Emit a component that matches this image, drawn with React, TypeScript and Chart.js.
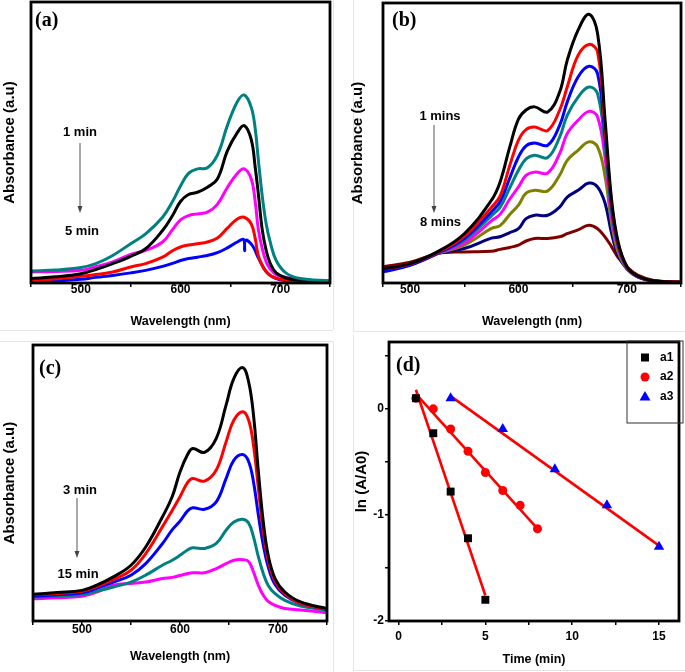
import React, { useEffect, useRef } from "react";
import { Chart, registerables } from "chart.js";

Chart.register(...registerables);

// ---------------- Panel (a) ----------------
const wavelengthA = [450, 475, 500, 515, 532, 550, 565, 582, 592, 600, 608, 617, 627, 637, 647, 657, 664, 671, 675, 678, 682, 686, 690, 696, 706, 720, 750];
const a_1min = [0.043, 0.046, 0.055, 0.069, 0.098, 0.14, 0.175, 0.234, 0.29, 0.345, 0.39, 0.406, 0.41, 0.455, 0.56, 0.645, 0.669, 0.625, 0.548, 0.442, 0.31, 0.21, 0.146, 0.08, 0.035, 0.016, 0.008];
const a_2min = [0.016, 0.022, 0.033, 0.048, 0.069, 0.095, 0.122, 0.187, 0.24, 0.29, 0.315, 0.323, 0.341, 0.37, 0.47, 0.535, 0.56, 0.51, 0.41, 0.32, 0.19, 0.115, 0.07, 0.036, 0.018, 0.01, 0.006];
const a_3min = [0.039, 0.041, 0.045, 0.058, 0.075, 0.102, 0.116, 0.146, 0.19, 0.225, 0.24, 0.246, 0.252, 0.28, 0.34, 0.39, 0.406, 0.37, 0.288, 0.193, 0.122, 0.075, 0.05, 0.03, 0.02, 0.012, 0.006];
const a_4min = [0.007, 0.015, 0.024, 0.03, 0.039, 0.057, 0.069, 0.092, 0.115, 0.128, 0.135, 0.14, 0.146, 0.16, 0.195, 0.228, 0.234, 0.21, 0.158, 0.098, 0.062, 0.04, 0.027, 0.017, 0.01, 0.006, 0.004];
const wavelengthA5 = [450, 475, 500, 515, 532, 550, 565, 582, 592, 600, 608, 617, 627, 637, 647, 657, 663.3, 664.3, 665.3, 672, 677, 682, 688, 696, 706, 720, 750];
const a_5min = [0.004, 0.008, 0.013, 0.02, 0.027, 0.036, 0.045, 0.059, 0.07, 0.08, 0.087, 0.092, 0.098, 0.108, 0.125, 0.146, 0.155, 0.115, 0.152, 0.134, 0.098, 0.063, 0.033, 0.016, 0.008, 0.005, 0.003];

// ---------------- Panel (b) ----------------
const wavelengthB = [475, 500, 525, 550, 575, 583, 592, 600, 607, 615, 627, 638, 645, 655, 665, 673, 680, 686, 692, 700, 710, 725, 750];
const b_1 = [0.051, 0.069, 0.111, 0.176, 0.295, 0.36, 0.486, 0.585, 0.618, 0.629, 0.611, 0.682, 0.795, 0.903, 0.96, 0.891, 0.58, 0.295, 0.146, 0.06, 0.025, 0.008, 0.003];
const b_2 = [0.05, 0.068, 0.108, 0.167, 0.27, 0.31, 0.42, 0.51, 0.548, 0.557, 0.545, 0.617, 0.7, 0.813, 0.852, 0.825, 0.545, 0.284, 0.14, 0.058, 0.024, 0.008, 0.003];
const b_3 = [0.04, 0.063, 0.105, 0.159, 0.254, 0.29, 0.375, 0.45, 0.49, 0.5, 0.492, 0.563, 0.646, 0.736, 0.774, 0.748, 0.521, 0.271, 0.135, 0.056, 0.023, 0.007, 0.003];
const b_4 = [0.045, 0.065, 0.105, 0.153, 0.24, 0.27, 0.34, 0.403, 0.443, 0.456, 0.448, 0.521, 0.599, 0.664, 0.7, 0.676, 0.486, 0.254, 0.13, 0.055, 0.023, 0.007, 0.003];
const b_5 = [0.047, 0.066, 0.105, 0.143, 0.222, 0.245, 0.3, 0.343, 0.384, 0.396, 0.393, 0.462, 0.534, 0.581, 0.613, 0.593, 0.444, 0.236, 0.123, 0.054, 0.023, 0.007, 0.003];
const b_6 = [0.048, 0.067, 0.105, 0.135, 0.195, 0.205, 0.245, 0.278, 0.321, 0.331, 0.329, 0.385, 0.438, 0.474, 0.504, 0.486, 0.379, 0.212, 0.11, 0.052, 0.022, 0.007, 0.003];
const b_7 = [0.045, 0.065, 0.105, 0.123, 0.16, 0.165, 0.18, 0.194, 0.23, 0.242, 0.242, 0.271, 0.307, 0.331, 0.357, 0.343, 0.284, 0.176, 0.099, 0.05, 0.022, 0.007, 0.003];
const b_8 = [0.058, 0.074, 0.105, 0.111, 0.113, 0.12, 0.127, 0.135, 0.15, 0.159, 0.159, 0.165, 0.176, 0.19, 0.206, 0.194, 0.164, 0.129, 0.091, 0.057, 0.028, 0.009, 0.003];

// ---------------- Panel (c) ----------------
const wavelengthC = [450, 475, 500, 515, 532, 550, 565, 582, 592, 600, 608, 613, 625, 637, 647, 655, 664, 670, 675, 680, 685, 690, 697, 707, 723, 750];
const c_3min = [0.097, 0.103, 0.111, 0.13, 0.16, 0.202, 0.268, 0.377, 0.45, 0.54, 0.605, 0.625, 0.611, 0.662, 0.782, 0.879, 0.918, 0.867, 0.746, 0.54, 0.359, 0.238, 0.154, 0.105, 0.069, 0.045];
const c_6min = [0.095, 0.1, 0.108, 0.125, 0.15, 0.184, 0.244, 0.341, 0.4, 0.45, 0.503, 0.516, 0.507, 0.547, 0.649, 0.728, 0.758, 0.728, 0.637, 0.48, 0.323, 0.22, 0.144, 0.099, 0.064, 0.043];
const c_9min = [0.09, 0.095, 0.102, 0.118, 0.141, 0.166, 0.208, 0.28, 0.33, 0.362, 0.4, 0.41, 0.405, 0.432, 0.516, 0.583, 0.603, 0.578, 0.504, 0.383, 0.275, 0.196, 0.132, 0.093, 0.063, 0.042];
const c_12min = [0.087, 0.09, 0.096, 0.108, 0.123, 0.141, 0.166, 0.202, 0.22, 0.238, 0.258, 0.265, 0.263, 0.281, 0.329, 0.359, 0.369, 0.355, 0.305, 0.232, 0.172, 0.129, 0.099, 0.075, 0.054, 0.04];
const c_15min = [0.081, 0.084, 0.09, 0.105, 0.13, 0.136, 0.141, 0.154, 0.158, 0.165, 0.172, 0.175, 0.175, 0.19, 0.208, 0.22, 0.222, 0.216, 0.178, 0.129, 0.093, 0.071, 0.057, 0.045, 0.04, 0.03];

// ---------------- Panel (d) ----------------
const timeA1 = [1, 2, 3, 4, 5];
const lnA1 = [0.1, -0.23, -0.78, -1.22, -1.8];
const timeA2 = [1, 2, 3, 4, 5, 6, 7, 8];
const lnA2 = [0.1, 0.0, -0.19, -0.4, -0.6, -0.77, -0.91, -1.13];
const timeA3 = [3, 6, 9, 12, 15];
const lnA3 = [0.1, -0.19, -0.57, -0.91, -1.3];
const fitA1X = [1.0, 5.0];
const fitA1Y = [0.18, -1.76];
const fitA2X = [1.0, 8.0];
const fitA2Y = [0.14, -1.13];
const fitA3X = [3.0, 15.0];
const fitA3Y = [0.12, -1.29];

// tick values
const wlTicksA = [450, 500, 550, 600, 650, 700, 750];
const wlTicksB = [475, 500, 550, 600, 650, 700, 750];
const wlLabels = [500, 600, 700];
const timeTicks = [0, 2.5, 5, 7.5, 10, 12.5, 15];
const timeLabels = [0, 5, 10, 15];
const lnTicks = [-2, -1.5, -1, -0.5, 0, 0.5];
const lnLabels = [-2, -1, 0];

const SANS = '"Liberation Sans", Arial, Helvetica, sans-serif';
const SERIF = '"Liberation Serif", "Times New Roman", serif';

function series(xs: number[], ys: number[]) {
  return xs.map((x, i) => ({ x, y: ys[i] }));
}

function spectrum(label: string, xs: number[], ys: number[], color: string) {
  return {
    label,
    data: series(xs, ys),
    borderColor: color,
    backgroundColor: color,
    borderWidth: 3,
    pointRadius: 0,
    fill: false,
    tension: 0.4,
  };
}

type Note = { text: string; x: number; y: number; font: string; align?: CanvasTextAlign };
type Arrow = { x: number; y1: number; y2: number };
type LegendItem = { text: string; shape: string; color: string };
type LegendBox = { x1: number; y1: number; x2: number; y2: number; markerX: number; textX: number; rows: number[]; items: LegendItem[] };

function drawMarker(ctx: CanvasRenderingContext2D, shape: string, x: number, y: number, color: string) {
  ctx.fillStyle = color;
  ctx.beginPath();
  if (shape === "rect") {
    ctx.rect(x - 4, y - 4, 8, 8);
  } else if (shape === "circle") {
    ctx.arc(x, y, 4.5, 0, Math.PI * 2);
  } else {
    ctx.moveTo(x, y - 5.5);
    ctx.lineTo(x + 5.5, y + 4);
    ctx.lineTo(x - 5.5, y + 4);
    ctx.closePath();
  }
  ctx.fill();
}

function decorPlugin(notes: Note[], arrows: Arrow[], legend?: LegendBox) {
  return {
    id: "decor",
    afterDraw(chart: any) {
      const ctx: CanvasRenderingContext2D = chart.ctx;
      const { left, top, right, bottom } = chart.chartArea;
      ctx.save();
      ctx.strokeStyle = "#000";
      ctx.lineWidth = 2.8;
      ctx.strokeRect(left, top, right - left, bottom - top);
      for (const a of arrows) {
        ctx.strokeStyle = "#555";
        ctx.lineWidth = 1;
        ctx.beginPath();
        ctx.moveTo(a.x, a.y1);
        ctx.lineTo(a.x, a.y2 - 5);
        ctx.stroke();
        ctx.fillStyle = "#444";
        ctx.beginPath();
        ctx.moveTo(a.x, a.y2);
        ctx.lineTo(a.x - 2.5, a.y2 - 7);
        ctx.lineTo(a.x + 2.5, a.y2 - 7);
        ctx.closePath();
        ctx.fill();
      }
      for (const n of notes) {
        ctx.font = n.font;
        ctx.fillStyle = "#000";
        ctx.textAlign = n.align || "center";
        ctx.textBaseline = "middle";
        ctx.fillText(n.text, n.x, n.y);
      }
      if (legend) {
        ctx.strokeStyle = "#333";
        ctx.lineWidth = 1;
        ctx.strokeRect(legend.x1, legend.y1, legend.x2 - legend.x1, legend.y2 - legend.y1);
        legend.items.forEach((it, i) => {
          drawMarker(ctx, it.shape, legend.markerX, legend.rows[i], it.color);
          ctx.font = `bold 12px ${SANS}`;
          ctx.fillStyle = "#000";
          ctx.textAlign = "left";
          ctx.textBaseline = "middle";
          ctx.fillText(it.text, legend.textX, legend.rows[i]);
        });
      }
      ctx.restore();
    },
  };
}

type Spec = {
  x: number; y: number; w: number; h: number;
  padTop: number; padRight: number; yAxisW: number; xAxisH: number;
  xMin: number; xMax: number; xTicks: number[]; xLabels: number[]; xTickPad: number;
  yMin: number; yMax: number; yTicks?: number[]; yLabels?: number[];
  xTitle: string; xTitlePad: number; yTitle: string; yTitlePad: number;
  datasets: any[]; notes: Note[]; arrows: Arrow[]; legend?: LegendBox;
};

function buildConfig(s: Spec): any {
  const tickFont = { family: SANS, size: 12, weight: "bold", lineHeight: 1 };
  const showY = !!s.yTicks;
  return {
    type: "line",
    data: { datasets: s.datasets },
    options: {
      responsive: false,
      animation: false,
      devicePixelRatio: 1,
      layout: { padding: { top: s.padTop, right: s.padRight, left: 0, bottom: 0 } },
      plugins: { legend: { display: false }, tooltip: { enabled: false }, title: { display: false } },
      scales: {
        x: {
          type: "linear",
          min: s.xMin,
          max: s.xMax,
          afterBuildTicks: (sc: any) => {
            sc.ticks = s.xTicks.map((v) => ({ value: v }));
          },
          afterFit: (sc: any) => {
            sc.height = s.xAxisH;
          },
          ticks: {
            autoSkip: false,
            maxRotation: 0,
            minRotation: 0,
            padding: s.xTickPad,
            font: tickFont,
            color: "#000",
            callback: (v: number) => (s.xLabels.includes(v) ? String(v) : ""),
          },
          grid: { display: true, drawOnChartArea: false, drawTicks: true, tickLength: 4, color: "#000", lineWidth: 1.5 },
          border: { display: false },
          title: {
            display: true,
            text: s.xTitle,
            color: "#000",
            font: { family: SANS, size: 12.5, weight: "bold", lineHeight: 1.2 },
            padding: { top: 0, bottom: s.xTitlePad, left: 0, right: 0 },
          },
        },
        y: {
          type: "linear",
          min: s.yMin,
          max: s.yMax,
          afterBuildTicks: (sc: any) => {
            if (s.yTicks) sc.ticks = s.yTicks.map((v) => ({ value: v }));
          },
          afterFit: (sc: any) => {
            sc.width = s.yAxisW;
          },
          ticks: {
            display: showY,
            autoSkip: false,
            padding: 1,
            font: tickFont,
            color: "#000",
            callback: (v: number) => (s.yLabels && s.yLabels.includes(v) ? String(v) : ""),
          },
          grid: { display: showY, drawOnChartArea: false, drawTicks: true, tickLength: 4, color: "#000", lineWidth: 1.5 },
          border: { display: false },
          title: {
            display: true,
            text: s.yTitle,
            color: "#000",
            font: { family: SANS, size: 15, weight: "bold", lineHeight: 1.2 },
            padding: { top: s.yTitlePad, bottom: 0, left: 0, right: 0 },
          },
        },
      },
    },
    plugins: [decorPlugin(s.notes, s.arrows, s.legend)],
  };
}

const labelFont = `bold 20px ${SERIF}`;
const noteFont = `bold 13px ${SANS}`;

const specA: Spec = {
  x: 0, y: 0, w: 340, h: 335,
  padTop: 2, padRight: 10, yAxisW: 31, xAxisH: 52,
  xMin: 450, xMax: 750, xTicks: wlTicksA, xLabels: wlLabels, xTickPad: -3,
  yMin: 0, yMax: 1,
  xTitle: "Wavelength (nm)", xTitlePad: 5.5, yTitle: "Absorbance (a.u)", yTitlePad: 1,
  datasets: [
    spectrum("1 min", wavelengthA, a_1min, "#008080"),
    spectrum("2 min", wavelengthA, a_2min, "#000000"),
    spectrum("3 min", wavelengthA, a_3min, "#FF00FF"),
    spectrum("4 min", wavelengthA, a_4min, "#FF0000"),
    spectrum("5 min", wavelengthA5, a_5min, "#0000FF"),
  ],
  notes: [
    { text: "(a)", x: 35, y: 21, font: labelFont, align: "left" },
    { text: "1 min", x: 80, y: 132, font: noteFont },
    { text: "5 min", x: 82, y: 231, font: noteFont },
  ],
  arrows: [{ x: 80, y1: 143, y2: 213 }],
};

const specB: Spec = {
  x: 340, y: 0, w: 345, h: 335,
  padTop: 3, padRight: 4, yAxisW: 43, xAxisH: 52,
  xMin: 475, xMax: 750, xTicks: wlTicksB, xLabels: wlLabels, xTickPad: -3,
  yMin: 0, yMax: 1,
  xTitle: "Wavelength (nm)", xTitlePad: 5.5, yTitle: "Absorbance (a.u)", yTitlePad: 9,
  datasets: [
    spectrum("1 mins", wavelengthB, b_1, "#000000"),
    spectrum("2 mins", wavelengthB, b_2, "#FF0000"),
    spectrum("3 mins", wavelengthB, b_3, "#0000FF"),
    spectrum("4 mins", wavelengthB, b_4, "#008080"),
    spectrum("5 mins", wavelengthB, b_5, "#FF00FF"),
    spectrum("6 mins", wavelengthB, b_6, "#808000"),
    spectrum("7 mins", wavelengthB, b_7, "#000080"),
    spectrum("8 mins", wavelengthB, b_8, "#800000"),
  ],
  notes: [
    { text: "(b)", x: 52, y: 21, font: labelFont, align: "left" },
    { text: "1 mins", x: 100, y: 116, font: noteFont },
    { text: "8 mins", x: 100.5, y: 222, font: noteFont },
  ],
  arrows: [{ x: 94, y1: 125, y2: 213 }],
};

const specC: Spec = {
  x: 0, y: 335, w: 340, h: 337,
  padTop: 10, padRight: 13, yAxisW: 33, xAxisH: 51,
  xMin: 450, xMax: 750, xTicks: wlTicksA, xLabels: wlLabels, xTickPad: -1,
  yMin: 0, yMax: 1,
  xTitle: "Wavelength (nm)", xTitlePad: 7.5, yTitle: "Absorbance (a.u)", yTitlePad: 1,
  datasets: [
    spectrum("3 min", wavelengthC, c_3min, "#000000"),
    spectrum("6 min", wavelengthC, c_6min, "#FF0000"),
    spectrum("9 min", wavelengthC, c_9min, "#0000FF"),
    spectrum("12 min", wavelengthC, c_12min, "#008080"),
    spectrum("15 min", wavelengthC, c_15min, "#FF00FF"),
  ],
  notes: [
    { text: "(c)", x: 39, y: 33.5, font: labelFont, align: "left" },
    { text: "3 min", x: 80, y: 155, font: noteFont },
    { text: "15 min", x: 78, y: 239, font: noteFont },
  ],
  arrows: [{ x: 77, y1: 163, y2: 223 }],
};

const specD: Spec = {
  x: 340, y: 335, w: 345, h: 337,
  padTop: 6, padRight: 2, yAxisW: 49, xAxisH: 51,
  xMin: -0.55, xMax: 16.15, xTicks: timeTicks, xLabels: timeLabels, xTickPad: 6,
  yMin: -2, yMax: 0.63, yTicks: lnTicks, yLabels: lnLabels,
  xTitle: "Time (min)", xTitlePad: 4.5, yTitle: "ln (A/A0)", yTitlePad: 13,
  datasets: [
    { label: "a1", data: series(timeA1, lnA1), showLine: false, pointStyle: "rect", pointRadius: 5.6, pointBackgroundColor: "#000", pointBorderColor: "#000", pointBorderWidth: 0, order: 1 },
    { label: "a2", data: series(timeA2, lnA2), showLine: false, pointStyle: "circle", pointRadius: 4.5, pointBackgroundColor: "#FF0000", pointBorderColor: "#FF0000", pointBorderWidth: 0, order: 1 },
    { label: "a3", data: series(timeA3, lnA3), showLine: false, pointStyle: "triangle", pointRadius: 6, pointBackgroundColor: "#0000FF", pointBorderColor: "#0000FF", pointBorderWidth: 0, order: 1 },
    { label: "fit a1", data: series(fitA1X, fitA1Y), borderColor: "#FF0000", borderWidth: 2.6, pointRadius: 0, order: 2 },
    { label: "fit a2", data: series(fitA2X, fitA2Y), borderColor: "#FF0000", borderWidth: 2.6, pointRadius: 0, order: 2 },
    { label: "fit a3", data: series(fitA3X, fitA3Y), borderColor: "#FF0000", borderWidth: 2.6, pointRadius: 0, order: 2 },
  ],
  notes: [{ text: "(d)", x: 56, y: 31, font: labelFont, align: "left" }],
  arrows: [],
  legend: {
    x1: 287, y1: 6, x2: 343, y2: 88, markerX: 305, textX: 320, rows: [22.5, 42, 61.5],
    items: [
      { text: "a1", shape: "rect", color: "#000" },
      { text: "a2", shape: "circle", color: "#FF0000" },
      { text: "a3", shape: "triangle", color: "#0000FF" },
    ],
  },
};

function Panel({ spec }: { spec: Spec }) {
  const ref = useRef<HTMLCanvasElement>(null);
  useEffect(() => {
    if (!ref.current) return;
    const chart = new Chart(ref.current, buildConfig(spec));
    return () => chart.destroy();
  }, [spec]);
  return (
    <canvas
      ref={ref}
      width={spec.w}
      height={spec.h}
      style={{ position: "absolute", left: spec.x, top: spec.y, width: spec.w, height: spec.h }}
    />
  );
}

const edge = (l: number, t: number, w: number, h: number) => (
  <div style={{ position: "absolute", left: l, top: t, width: w, height: h, background: "#e4e4e4" }} />
);

export default function App() {
  return (
    <div style={{ position: "absolute", left: 0, top: 0, width: 685, height: 672, background: "#fff", overflow: "hidden" }}>
      {edge(333, 0, 1, 330)}
      {edge(0, 330, 333, 1)}
      {edge(353, 0, 1, 331)}
      {edge(353, 331, 332, 1)}
      {edge(0, 341, 333, 1)}
      {edge(333, 341, 1, 331)}
      {edge(353, 335, 1, 335)}
      {edge(353, 670, 332, 1)}
      <Panel spec={specA} />
      <Panel spec={specB} />
      <Panel spec={specC} />
      <Panel spec={specD} />
    </div>
  );
}
